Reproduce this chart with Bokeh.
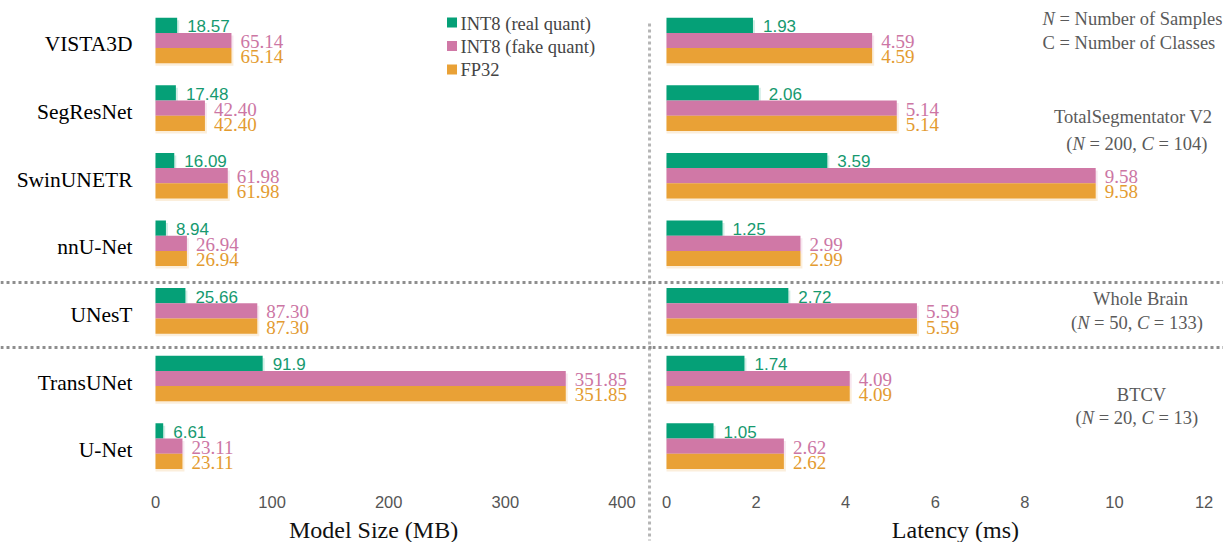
from bokeh.plotting import figure
from bokeh.models import Range1d, Span, ColumnDataSource
from bokeh.layouts import row
from bokeh.core.properties import value
from bokeh.embed import file_html
from bokeh.resources import INLINE

# ---------------- data ----------------
models = ["VISTA3D", "SegResNet", "SwinUNETR", "nnU-Net", "UNesT", "TransUNet", "U-Net"]
size_real = [18.57, 17.48, 16.09, 8.94, 25.66, 91.9, 6.61]
size_fake = [65.14, 42.40, 61.98, 26.94, 87.30, 351.85, 23.11]
size_fp32 = [65.14, 42.40, 61.98, 26.94, 87.30, 351.85, 23.11]
lat_real = [1.93, 2.06, 3.59, 1.25, 2.72, 1.74, 1.05]
lat_fake = [4.59, 5.14, 9.58, 2.99, 5.59, 4.09, 2.62]
lat_fp32 = [4.59, 5.14, 9.58, 2.99, 5.59, 4.09, 2.62]
series_names = ["INT8 (real quant)", "INT8 (fake quant)", "FP32"]
size_ticks = [0, 100, 200, 300, 400]
lat_ticks = [0, 2, 4, 6, 8, 10, 12]
size_title = "Model Size (MB)"
lat_title = "Latency (ms)"

# ---------------- style ----------------
C_REAL, C_FAKE, C_FP = "#05A077", "#D078A6", "#E9A136"
T_REAL, T_FAKE, T_FP = "#16996F", "#CC76A4", "#E39B30"
SERIF = "'Liberation Serif'"
SANS = "'Liberation Sans'"
BAR_H = 0.2249
OFF = 0.2249
N = len(models)
rows_idx = list(range(N))

Y_RANGE = (7.426, -0.5917)
PX_Y = 1.0 / 67.6          # one pixel in row units
TICK_Y = 6.834
TITLE_Y = 7.24
SEP_Y = [3.58, 4.54]


def make_fig(width, xr):
    p = figure(width=width, height=542, output_backend="svg", toolbar_location=None,
               x_range=Range1d(*xr), y_range=Range1d(*Y_RANGE),
               x_axis_location=None, y_axis_location=None, min_border=0)
    p.outline_line_color = None
    p.xgrid.visible = False
    p.ygrid.visible = False
    p.background_fill_color = "white"
    p.border_fill_color = "white"
    for s in SEP_Y:
        p.add_layout(Span(location=s, dimension="width", line_color="#8e8e8e",
                          line_width=3, line_dash="3 3"))
    return p


def draw_panel(p, real, fake, fp32, ticks, title, title_x, fmt_real, px_x):
    yr = [i - OFF for i in rows_idx]
    yf = [i for i in rows_idx]
    yp = [i + OFF for i in rows_idx]
    # soft shadows
    for vals, ys, col in ((real, yr, C_REAL), (fake, yf, C_FAKE), (fp32, yp, C_FP)):
        p.hbar(y=[v + 2.5 * PX_Y for v in ys], left=0, right=[v + 2 * px_x for v in vals],
               height=BAR_H, color=col, alpha=0.18, line_color=None)
    p.hbar(y=yr, left=0, right=real, height=BAR_H, color=C_REAL, line_color=None)
    p.hbar(y=yf, left=0, right=fake, height=BAR_H, color=C_FAKE, line_color=None)
    p.hbar(y=yp, left=0, right=fp32, height=BAR_H, color=C_FP, line_color=None)
    p.text(x=real, y=yr, text=[fmt_real(v) for v in real], x_offset=10, y_offset=1,
           text_font=value(SANS), text_font_size="17px", text_color=T_REAL,
           text_baseline="middle", text_align="left")
    p.text(x=fake, y=yf, text=[f"{v:.2f}" for v in fake], x_offset=9, y_offset=1,
           text_font=value(SERIF), text_font_size="19px", text_color=T_FAKE,
           text_baseline="middle", text_align="left")
    p.text(x=fp32, y=yp, text=[f"{v:.2f}" for v in fp32], x_offset=9, y_offset=1,
           text_font=value(SERIF), text_font_size="19px", text_color=T_FP,
           text_baseline="middle", text_align="left")
    p.text(x=ticks, y=[TICK_Y] * len(ticks), text=[str(t) for t in ticks],
           text_font=value(SANS), text_font_size="16.5px", text_color="#555555",
           text_baseline="middle", text_align="center")
    p.text(x=[title_x], y=[TITLE_Y], text=[title], text_font=value(SERIF),
           text_font_size="24px", text_color="#111111", text_baseline="middle",
           text_align="center")


# metrics (Times-compatible) for mixed italic text layout
REG = {' ': 250, '(': 333, ')': 333, '=': 564, ',': 250, 'N': 722, 'C': 667,
       'u': 500, 'm': 778, 'b': 500, 'e': 444, 'r': 333, 'o': 500, 'f': 333,
       'S': 556, 'a': 444, 'p': 500, 'l': 278, 's': 389}
ITA = {'N': 667, 'C': 667}


def tw(s, italic, fs):
    tot = 0
    for ch in s:
        if ch.isdigit():
            tot += 500
        elif italic:
            tot += ITA.get(ch, REG.get(ch, 500))
        else:
            tot += REG.get(ch, 500)
    return tot * fs / 1000.0


def mixed(parts, x, y, fs, align):
    widths = [tw(s, it, fs) for s, it in parts]
    total = sum(widths)
    start = -total / 2 if align == "center" else 0.0
    out = []
    cur = start
    for (s, it), w in zip(parts, widths):
        stripped = s.lstrip(" ")
        lead = tw(s[:len(s) - len(stripped)], it, fs)
        out.append((x, y, stripped.rstrip(" "), cur + lead, "italic" if it else "normal"))
        cur += w
    return out


# ---------------- left panel ----------------
left = make_fig(652, (-132.93, 426.24))
draw_panel(left, size_real, size_fake, size_fp32, size_ticks, size_title, 187.0,
           lambda v: str(v), 1.0 / 1.166)
left.text(x=[0] * N, y=rows_idx, text=models, x_offset=-23, y_offset=4,
          text_font=value(SERIF), text_font_size="21.5px", text_color="#000000",
          text_baseline="middle", text_align="right")
leg_y = [-0.266, 0.081, 0.429]
left.scatter(x=[254.3] * 3, y=leg_y, marker="square", size=10,
             color=[C_REAL, C_FAKE, C_FP], line_color=None)
left.text(x=[261.6] * 3, y=leg_y, text=series_names, text_font=value(SERIF),
          text_font_size="18.5px", text_color="#444444", text_baseline="middle",
          text_align="left", y_offset=1)
left.segment(x0=[423.7], y0=[-0.2515], x1=[423.7], y1=[7.396],
             line_color="#b5b5b5", line_width=3, line_dash="3 3")

# ---------------- right panel ----------------
right = make_fig(571, (-0.3125, 12.433))
draw_panel(right, lat_real, lat_fake, lat_fp32, lat_ticks, lat_title, 6.45,
           lambda v: f"{v:.2f}", 1.0 / 44.8)

FS = 18.5
items = []
items += mixed([("N", True), (" = Number of Samples", False)], 8.393, -0.325, FS, "left")
items += mixed([("C = Number of Classes", False)], 8.393, 0.044, FS, "left")
items += mixed([("TotalSegmentator V2", False)], 10.5, 1.139, FS, "center")
items += mixed([("(", False), ("N", True), (" = 200, ", False), ("C", True), (" = 104)", False)],
               10.5, 1.524, FS, "center")
items += mixed([("Whole Brain", False)], 10.5, 3.817, FS, "center")
items += mixed([("(", False), ("N", True), (" = 50, ", False), ("C", True), (" = 133)", False)],
               10.5, 4.186, FS, "center")
items += mixed([("BTCV", False)], 10.5, 5.25, FS, "center")
items += mixed([("(", False), ("N", True), (" = 20, ", False), ("C", True), (" = 13)", False)],
               10.5, 5.577, FS, "center")
src = ColumnDataSource(dict(x=[i[0] for i in items], y=[i[1] for i in items],
                            text=[i[2] for i in items], xo=[i[3] for i in items],
                            fst=[i[4] for i in items]))
right.text(x="x", y="y", text="text", x_offset="xo", text_font_style="fst", source=src,
           text_font=value(SERIF), text_font_size=f"{FS}px", text_color="#5a5a5a",
           text_baseline="middle", text_align="left")

layout = row(left, right)
open("out.html", "w").write(file_html(layout, INLINE))
